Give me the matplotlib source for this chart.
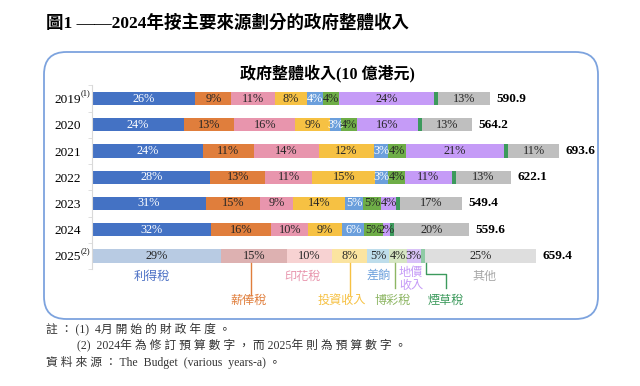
import matplotlib
matplotlib.use("Agg")
import matplotlib.pyplot as plt
from matplotlib.patches import FancyBboxPatch
import numpy as np

plt.rcParams['font.family'] = ['Liberation Serif', 'Noto Sans CJK TC', 'DejaVu Sans']

# 資料
years = ['2019', '2020', '2021', '2022', '2023', '2024', '2025']
year_notes = ['(1)', '', '', '', '', '', '(2)']
totals = [590.9, 564.2, 693.6, 622.1, 549.4, 559.6, 659.4]
categories = ['利得稅', '薪俸稅', '印花稅', '投資收入', '差餉', '博彩稅', '地價收入', '煙草稅', '其他']
# 各來源佔比 (%)，每行一年；煙草稅約 1%
shares = [
    [26, 9, 11, 8, 4, 4, 24, 1, 13],
    [24, 13, 16, 9, 3, 4, 16, 1, 13],
    [24, 11, 14, 12, 3, 4, 21, 1, 11],
    [28, 13, 11, 15, 3, 4, 11, 1, 13],
    [31, 15, 9, 14, 5, 5, 4, 1, 17],
    [32, 16, 10, 9, 6, 5, 2, 1, 20],
    [29, 15, 10, 8, 5, 4, 3, 1, 25],
]
show_label = [True, True, True, True, True, True, True, False, True]

colors = ['#4472C4', '#E07E3C', '#E895AD', '#F6C143', '#6B9FDC', '#6EAD47', '#C59BF7', '#3C9A5C', '#BFBFBF']
colors_est = ['#B8CBE3', '#DDB1B1', '#F7D2D2', '#FBE4A0', '#BEDDEB', '#D5E5C2', '#D8C2F7', '#8FCBA5', '#DEDEDE']
text_white = [True, False, False, False, True, False, False, False, False]
legend_colors = ['#4A6FC4', '#E07E3C', '#E895AD', '#F6C143', '#6B9FDC', '#8DB663', '#C59BF7', '#3C9A5C', '#A6A6A6']

fig = plt.figure(figsize=(6.4, 3.86), dpi=100)
W, H = 640, 386

# 外框
box = FancyBboxPatch((44 / W, 1 - 319 / H), (598 - 44) / W, (319 - 52) / H,
                     boxstyle="round,pad=0,rounding_size=0.035",
                     transform=fig.transFigure, facecolor='none',
                     edgecolor='#7DA3DE', linewidth=1.3, mutation_aspect=W / H)
fig.patches.append(box)

fig.text(46 / W, 1 - 23 / H, '圖1 ——2024年按主要來源劃分的政府整體收入',
         fontsize=12.6, fontweight='bold', va='center', ha='left')
fig.text(327 / W, 1 - 73 / H, '政府整體收入(10 億港元)',
         fontsize=11.5, fontweight='bold', va='center', ha='center')

top, bot = 85.4, 269.1
ax = fig.add_axes([92 / W, 1 - bot / H, (597 - 92) / W, (bot - top) / H])
ax.set_xlim(0, 750)
ax.set_ylim(6.5, -0.5)
for s in ['top', 'right', 'bottom']:
    ax.spines[s].set_visible(False)
ax.spines['left'].set_color('#D9D9D9')
ax.set_xticks([])
ax.set_yticks(range(len(years)))
ax.set_yticklabels(years, fontsize=9.5)
ax.tick_params(axis='y', which='major', length=0, pad=8)
ax.set_yticks(np.arange(-0.5, 7, 1), minor=True)
ax.tick_params(axis='y', which='minor', length=3, color='#D9D9D9')

bar_h = 0.51
for i, (yr, tot, row) in enumerate(zip(years, totals, shares)):
    row = np.array(row, dtype=float)
    seg = row / row.sum() * tot
    left = 0.0
    pal = colors_est if i == len(years) - 1 else colors
    for j, w in enumerate(seg):
        ax.barh(i, w, left=left, height=bar_h, color=pal[j], edgecolor='none')
        if show_label[j]:
            tc = 'white' if (text_white[j] and i < len(years) - 1) else '#262626'
            ax.text(left + w / 2, i, f'{int(row[j])}%', ha='center', va='center',
                    fontsize=8.8, color=tc)
        left += w
    ax.annotate(f'{tot:.1f}', xy=(tot, i), xytext=(5, 0), textcoords='offset points',
                ha='left', va='center', fontsize=9.5, fontweight='bold')
    if year_notes[i]:
        ax.annotate(year_notes[i], xy=(0, i), xycoords=ax.get_yaxis_transform(),
                    xytext=(-8, 3.5), textcoords='offset points',
                    ha='left', va='center', fontsize=6)

# 2025 年分段下方的圖例文字與引線
last = np.array(shares[-1], dtype=float)
seg = last / last.sum() * totals[-1]
edges = np.concatenate([[0], np.cumsum(seg)])
centers = (edges[:-1] + edges[1:]) / 2
row_y = len(years) - 1
bar_bottom = row_y + bar_h / 2
y_up, y_low = row_y + 0.77, row_y + 1.69
lfs = 8.7
cjk = ['Noto Sans CJK TC']


def label(x, y, s, j, **kw):
    ax.text(x, y, s, color=legend_colors[j], ha='center', va='center',
            fontsize=lfs, family=cjk, clip_on=False, **kw)


# 上排 (無引線)
label(centers[0] - 7, y_up, categories[0], 0)
label(centers[2] - 10, y_up, categories[2], 2)
label(centers[4], y_up - 0.03, categories[4], 4)
label(centers[6] - 4, y_up + 0.1, '地價\n收入', 6, linespacing=1.05)
label(centers[8] + 6, y_up, categories[8], 8)

# 下排 (直引線)
for j, dx_text, dx_line, y_end in [(1, -7.5, -5, row_y + 1.49),
                                   (3, -11.4, 0, row_y + 1.49),
                                   (5, -8.6, -5.6, row_y + 1.22)]:
    lx = centers[j] + dx_line
    ax.plot([lx, lx], [bar_bottom, y_end], color=legend_colors[j], lw=1.0, clip_on=False)
    label(centers[j] + dx_text, y_low, categories[j], j)

# 煙草稅: 折線
tx = centers[7] + 4.4
ax.plot([tx, tx, tx + 30, tx + 30], [bar_bottom, row_y + 0.69, row_y + 0.69, row_y + 1.22],
        color=legend_colors[7], lw=1.0, clip_on=False)
label(tx + 29, y_low, categories[7], 7)

# 註釋
fs = 8.5
fig.text(46 / W, 1 - 330 / H, '註 ： (1)  4月 開 始 的 財 政 年 度 。', fontsize=fs, color='#333333', va='center')
fig.text(77 / W, 1 - 346 / H, '(2)  2024年 為 修 訂 預 算 數 字 ， 而 2025年 則 為 預 算 數 字 。',
         fontsize=fs, color='#333333', va='center')
fig.text(46 / W, 1 - 362 / H, '資 料 來 源 ： The  Budget  (various  years-a) 。', fontsize=fs, color='#333333', va='center')

fig.savefig('out.png', dpi=100)
